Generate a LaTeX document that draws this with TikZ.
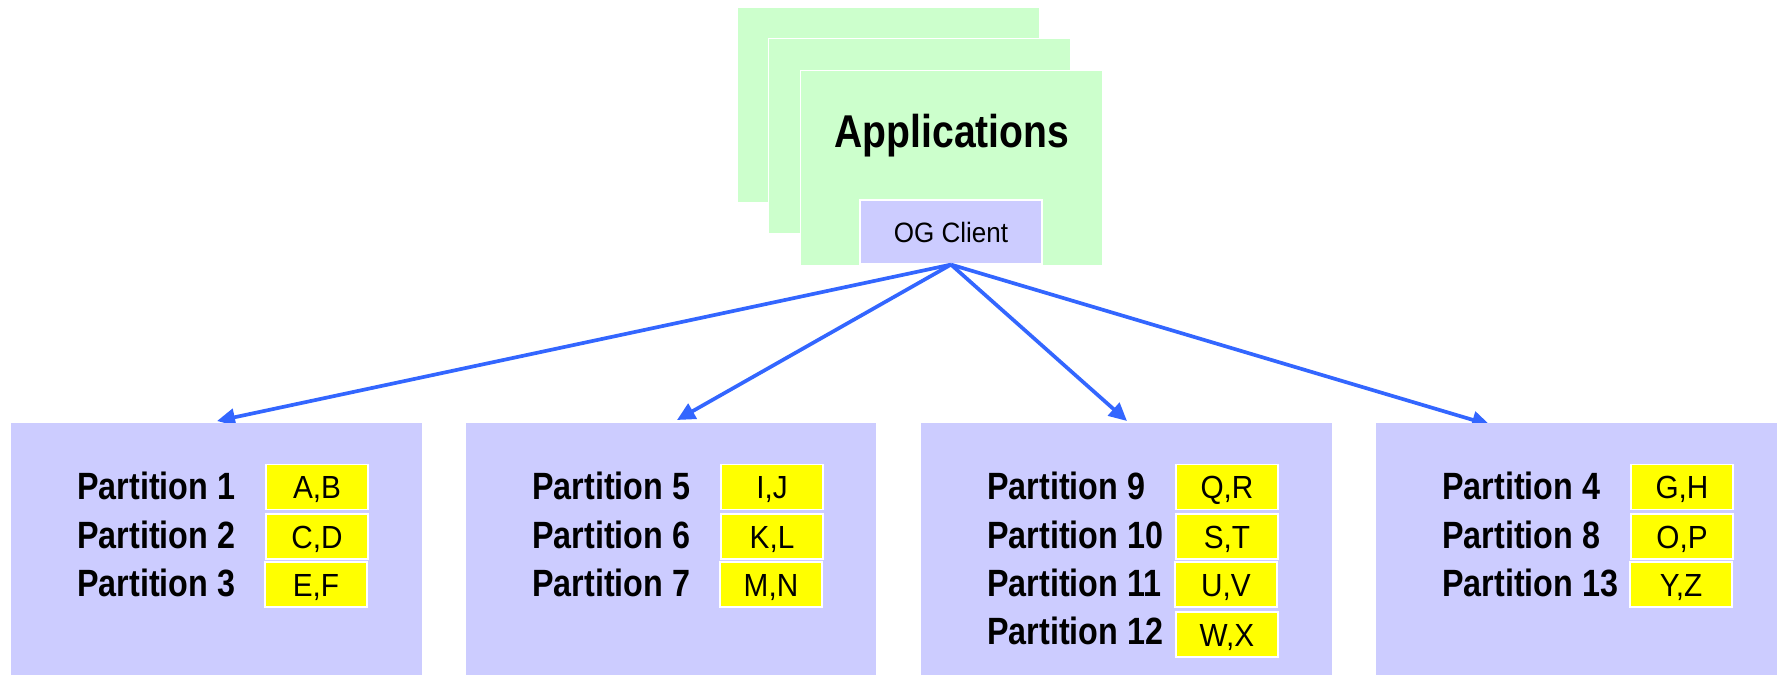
\documentclass[tikz,border=0pt]{standalone}
\usepackage{fontspec}
\setmainfont{Liberation Sans}[FakeStretch=0.93, BoldFeatures={FakeStretch=0.85}]
\usetikzlibrary{arrows.meta}
\definecolor{appgreen}{HTML}{CCFFCC}
\definecolor{partblue}{HTML}{CCCCFF}
\definecolor{keyyellow}{HTML}{FFFF00}
\definecolor{linkblue}{HTML}{3366FF}

\begin{document}
\begin{tikzpicture}[x=1pt,y=-1pt,
  appbox/.style={rectangle, fill=appgreen, draw=white, line width=1pt,
    minimum width=302pt, minimum height=195pt, inner sep=0pt},
  clientbox/.style={rectangle, fill=partblue, draw=white, line width=1.2pt,
    minimum width=182pt, minimum height=64pt, inner sep=0pt,
    font=\fontsize{28}{28}\selectfont, text height=20pt, text depth=0pt},
  partbox/.style={fill=partblue, draw=none},
  prow/.style={anchor=west, inner sep=0pt, font=\bfseries\fontsize{38}{38}\selectfont,
    text height=27pt, text depth=0pt},
  keybox/.style={rectangle, fill=keyyellow, draw=white, line width=1.2pt,
    minimum width=102pt, minimum height=45pt, inner sep=0pt,
    font=\fontsize{32}{32}\selectfont, text height=23pt, text depth=0pt},
  link/.style={draw=linkblue, line width=3.7pt,
    -{Triangle[length=18pt,width=17pt]}}
]
\useasboundingbox (0,0) rectangle (1777,675);

% stacked application windows
\node[appbox] (app1) at (888.5,105) {};
\node[appbox] (app2) at (919.5,136) {};
\node[appbox] (app3) at (951,167.5) {};
\node[inner sep=0pt, font=\bfseries\fontsize{46}{46}\selectfont,
  text height=33pt, text depth=0pt] (apptitle) at (952,131) {Applications};
\node[clientbox] (og) at (951,232) {OG Client};

% arrow targets on the partition servers
\coordinate (t1) at (217,421);
\coordinate (t2) at (677,420);
\coordinate (t3) at (1127,421);
\coordinate (t4) at (1490,425);

\draw[link] (og.south) -- (t1);
\draw[link] (og.south) -- (t2);
\draw[link] (og.south) -- (t3);
\draw[link] (og.south) -- (t4);

% partition servers
\fill[partbox] (11,423) rectangle (422,675);
\fill[partbox] (466,423) rectangle (876,675);
\fill[partbox] (921,423) rectangle (1332,675);
\fill[partbox] (1376,423) rectangle (1777,675);

% server 1
\node[prow] (p1) at (77,486) {Partition 1};
\node[prow] (p2) at (77,535) {Partition 2};
\node[prow] (p3) at (77,583) {Partition 3};
\node[keybox] (k1) at (317,487) {A,B};
\node[keybox] (k2) at (317,536.5) {C,D};
\node[keybox] (k3) at (316,584.5) {E,F};

% server 2
\node[prow] (p5) at (532,486) {Partition 5};
\node[prow] (p6) at (532,535) {Partition 6};
\node[prow] (p7) at (532,583) {Partition 7};
\node[keybox] (k5) at (772,487) {I,J};
\node[keybox] (k6) at (772,536.5) {K,L};
\node[keybox] (k7) at (771,584.5) {M,N};

% server 3
\node[prow] (p9) at (987,486) {Partition 9};
\node[prow] (p10) at (987,535) {Partition 10};
\node[prow] (p11) at (987,583) {Partition 11};
\node[prow] (p12) at (987,631) {Partition 12};
\node[keybox] (k9) at (1227,487) {Q,R};
\node[keybox] (k10) at (1227,536.5) {S,T};
\node[keybox] (k11) at (1226,584.5) {U,V};
\node[keybox] (k12) at (1227,634.5) {W,X};

% server 4
\node[prow] (p4) at (1442,486) {Partition 4};
\node[prow] (p8) at (1442,535) {Partition 8};
\node[prow] (p13) at (1442,583) {Partition 13};
\node[keybox] (k4) at (1682,487) {G,H};
\node[keybox] (k8) at (1682,536.5) {O,P};
\node[keybox] (k13) at (1681,584.5) {Y,Z};
\end{tikzpicture}
\end{document}
